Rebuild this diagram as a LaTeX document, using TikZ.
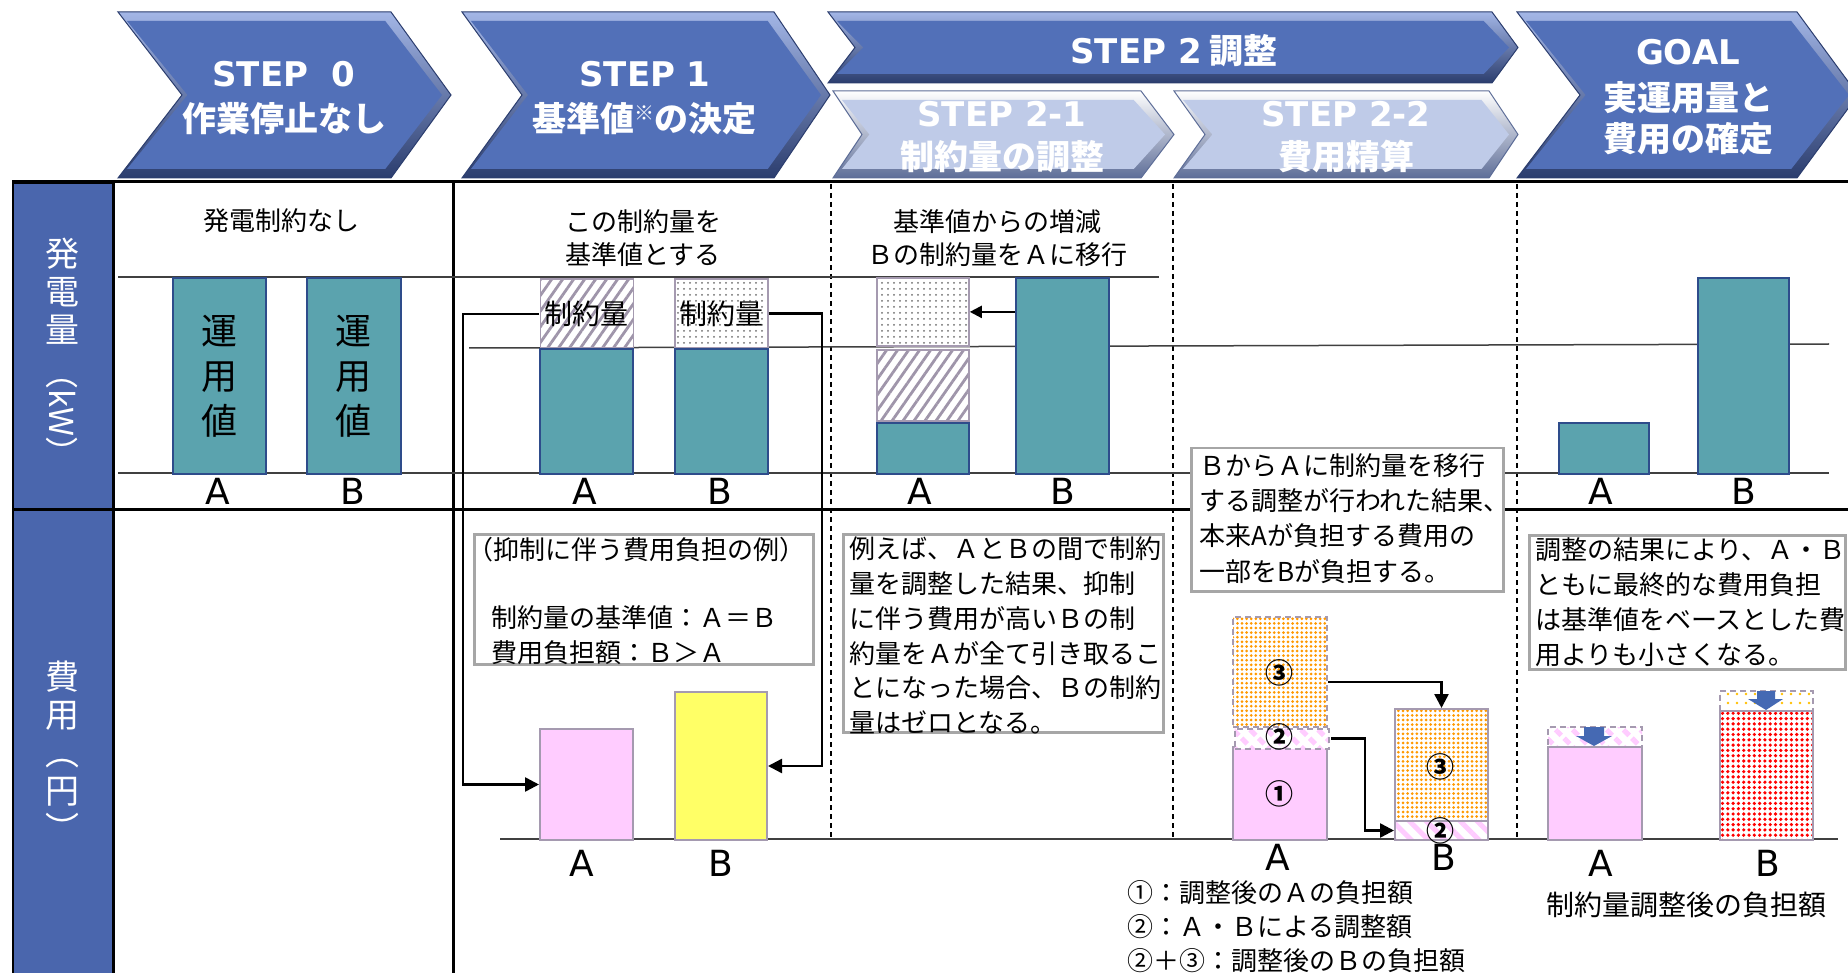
\documentclass[tikz,border=0pt]{standalone}
\usepackage{fontspec}
\setmainfont{Noto Sans CJK JP}
\newfontfamily\dv{DejaVu Sans}
\usetikzlibrary{patterns.meta,arrows.meta,calc}

\definecolor{chevblue}{HTML}{5270B8}
\definecolor{chevtop}{HTML}{A3B6E6}
\definecolor{chevbot}{HTML}{2B3D6E}
\definecolor{chevpale}{HTML}{BFCBE8}
\definecolor{palebot}{HTML}{5E6E98}
\definecolor{hdrblue}{HTML}{4A66AD}
\definecolor{teal1}{HTML}{5BA3AE}
\definecolor{tealbd}{HTML}{2E4C8B}
\definecolor{pink1}{HTML}{FFCCFF}
\definecolor{pinkbd}{HTML}{A59AB0}
\definecolor{yellow1}{HTML}{FFFF66}
\definecolor{orange1}{HTML}{FF9900}
\definecolor{gold1}{HTML}{FFC000}
\definecolor{red1}{HTML}{FF0000}
\definecolor{boxgray}{HTML}{A6A6A6}
\definecolor{arrblue}{HTML}{4569B3}
\definecolor{linegray}{HTML}{404040}
\definecolor{hatchc}{HTML}{9F95AA}
\definecolor{dotgray}{HTML}{6E6E6E}

\newcommand\chevpath[6]{(#1,#5) -- (#2,#5) -- (#3,{(#5+#6)/2}) -- (#2,#6) -- (#1,#6) -- (#4,{(#5+#6)/2}) -- cycle}
\newcommand\chevron[8]{%
  \pgfmathsetmacro\chcx{(#1+#3)/2}%
  \pgfmathsetmacro\chcy{(#5+#6)/2}%
  \pgfmathsetmacro\chsx{1-18/(#3-#1)}%
  \pgfmathsetmacro\chsy{1-18/(#6-#5)}%
  \path[#7] \chevpath{#1}{#2}{#3}{#4}{#5}{#6};
  \path[#8, shift={(\chcx,\chcy)}, xscale=\chsx, yscale=\chsy, shift={(-\chcx,-\chcy)}] \chevpath{#1}{#2}{#3}{#4}{#5}{#6};
}
\newcommand\bx[6]{\node[#1, anchor=north west, inner sep=0, minimum width={(#5-#3)*1pt}, minimum height={(#6-#4)*1pt}] (#2) at (#3,#4) {};}

\tikzset{
  darkchev/.style={draw=chevbot, line width=1pt, top color=chevtop, bottom color=chevbot},
  palechev/.style={draw=palebot, line width=1pt, top color=white, bottom color=palebot},
  chevtxt/.style={text=white, font=\fontsize{34}{34}\selectfont\bfseries, inner sep=0},
  body/.style={font=\fontsize{26}{26}\selectfont, inner sep=0, anchor=west},
  ctr/.style={font=\fontsize{26}{26}\selectfont, inner sep=0},
  circ/.style={font=\fontsize{28}{28}\selectfont\bfseries, inner sep=0},
  ab/.style={font=\dv\fontsize{36}{36}\selectfont, inner sep=0},
  tealbar/.style={draw=tealbd, fill=teal1, line width=1.8pt},
  hatchbox/.style={draw=pinkbd, line width=1.8pt, preaction={fill=white}, pattern={Lines[angle=55,distance=9pt,line width=2.8pt]}, pattern color=hatchc},
  dotbox/.style={draw=pinkbd, line width=1.8pt, preaction={fill=white}, pattern={Dots[radius=1pt,distance=6pt]}, pattern color=dotgray},
  pinkbar/.style={draw=pinkbd, fill=pink1, line width=2pt},
  yelbar/.style={draw=pinkbd, fill=yellow1, line width=2pt},
  orgdots/.style={draw=pinkbd, line width=2pt, preaction={fill=white}, pattern={Dots[radius=1.5pt,distance=4.6pt]}, pattern color=orange1},
  pinkhatch/.style={draw=pinkbd, line width=2pt, preaction={fill=white}, pattern={Lines[angle=-45,distance=12pt,line width=5pt]}, pattern color=pink1},
  reddots/.style={draw=pinkbd, line width=2pt, preaction={fill=white}, pattern={Dots[radius=1.8pt,distance=5.3pt]}, pattern color=red1},
  golddots/.style={draw=pinkbd, line width=2pt, preaction={fill=white}, pattern={Dots[radius=1.4pt,distance=9pt]}, pattern color=gold1},
  dashedbd/.style={dash pattern=on 6pt off 4pt},
  conn/.style={line width=2.5pt, -{Triangle[length=14pt,width=14pt]}},
  tbox/.style={draw=boxgray, fill=white, line width=2.5pt},
  tblline/.style={line width=3pt, black},
  thinline/.style={line width=1.5pt, linegray},
  vdash/.style={line width=1.2pt, black, dash pattern=on 5pt off 4pt},
}

\begin{document}
\begin{tikzpicture}[x=1pt,y=-1pt]
\useasboundingbox (0,0) rectangle (1848,973);
\fill[white] (0,0) rectangle (1848,973);

% ---------- chevrons ----------
\begin{scope}
\clip (0,0) rectangle (1848,973);
\chevron{118}{391}{451}{182}{12}{178}{darkchev}{fill=chevblue}
\chevron{462}{774}{830}{522}{12}{178}{darkchev}{fill=chevblue}
\chevron{828}{1492}{1518}{855}{12}{83}{darkchev}{fill=chevblue}
\chevron{833}{1141}{1174}{862}{91}{178}{palechev}{fill=chevpale}
\chevron{1174}{1489}{1518}{1205}{91}{178}{palechev}{fill=chevpale}
\chevron{1517}{1797}{1858}{1580}{12}{178}{darkchev}{fill=chevblue}
\end{scope}

\node[chevtxt] (c0a) at (284,74) {\dv STEP\ \ 0};
\node[chevtxt] (c0b) at (284,119) {作業停止なし};
\node[chevtxt] (c1a) at (645,74) {\dv STEP 1};
\node[chevtxt] (c1b) at (644,119) {基準値{\fontsize{20}{20}\selectfont\raisebox{11pt}{※}}の決定};
\node[chevtxt] (c2) at (1174,51) {{\dv STEP 2} 調整};
\node[chevtxt] (c21a) at (1002,114) {\dv STEP 2-1};
\node[chevtxt] (c21b) at (1002,157) {制約量の調整};
\node[chevtxt] (c22a) at (1346,114) {\dv STEP 2-2};
\node[chevtxt] (c22b) at (1346,157) {費用精算};
\node[chevtxt] (cga) at (1688,52) {\dv GOAL};
\node[chevtxt] (cgb) at (1688,98) {実運用量と};
\node[chevtxt] (cgc) at (1688,139) {費用の確定};

% ---------- table frame ----------
\node[draw=black, fill=hdrblue, line width=2pt, anchor=north west, inner sep=0, minimum width=101pt, minimum height=327pt] (hkw) at (12,182) {};
\node[draw=black, fill=hdrblue, line width=2pt, anchor=north west, inner sep=0, minimum width=101pt, minimum height=480pt] (hyen) at (12,509) {};
\node[text=white, font=\fontsize{34}{38}\selectfont, align=center, inner sep=0] (kwt) at (62,291) {発\\電\\量};
\node[text=white, font=\fontsize{33}{33}\selectfont, rotate=-90, inner sep=0] (kwu) at (62,413) {（kW）};
\node[text=white, font=\fontsize{34}{38}\selectfont, align=center, inner sep=0] (yent) at (62,751) {費\\用\\︵\\円\\︶};

\draw[tblline] (12,182) -- (1848,182);
\draw[tblline] (12,509) -- (1848,509);
\draw[tblline] (113,182) -- (113,973);
\draw[tblline] (453,182) -- (453,973);
\draw[vdash] (831,184) -- (831,839);
\draw[vdash] (1173,184) -- (1173,839);
\draw[vdash] (1517,184) -- (1517,839);

\draw[thinline] (118,277) -- (1159,277);
\draw[thinline] (469,348) -- (1829,344);
\draw[thinline] (118,473) -- (1829,473);
\draw[thinline] (500,839) -- (1838,839);

% ---------- top section ----------
\node[ctr] (h0) at (281,221) {発電制約なし};
\node[ctr] (h1a) at (643,222) {この制約量を};
\node[ctr] (h1b) at (643,255) {基準値とする};
\node[ctr] (h21a) at (997,222) {基準値からの増減};
\node[ctr] (h21b) at (997,255) {Ｂの制約量をＡに移行};

\bx{tealbar}{b0A}{172}{277}{265}{473}
\bx{tealbar}{b0B}{306}{277}{400}{473}
\node[font=\fontsize{36}{45}\selectfont, align=center, inner sep=0] (b0At) at (b0A.center) {運\\用\\値};
\node[font=\fontsize{36}{45}\selectfont, align=center, inner sep=0] (b0Bt) at (b0B.center) {運\\用\\値};
\node[ab] (l0A) at (218,491) {A};
\node[ab] (l0B) at (353,491) {B};

\bx{hatchbox}{s1Ah}{539}{278}{632}{347}
\bx{tealbar}{s1At}{539}{348}{632}{473}
\bx{dotbox}{s1Bd}{674}{278}{767}{347}
\bx{tealbar}{s1Bt}{674}{348}{767}{473}
\node[font=\fontsize{28}{28}\selectfont, inner sep=0] (s1Ahx) at (s1Ah.center) {制約量};
\node[font=\fontsize{28}{28}\selectfont, inner sep=0] (s1Bdx) at (s1Bd.center) {制約量};
\node[ab] (l1A) at (585,491) {A};
\node[ab] (l1B) at (720,491) {B};

\bx{dotbox}{s21Ad}{876}{277}{968}{345}
\bx{hatchbox}{s21Ah}{876}{349}{968}{420}
\bx{tealbar}{s21At}{876}{422}{968}{473}
\bx{tealbar}{s21B}{1015}{277}{1108}{473}
\node[ab] (l21A) at (920,491) {A};
\node[ab] (l21B) at (1063,491) {B};
\draw[line width=2.2pt, -{Triangle[length=12pt,width=12pt]}] (s21Ad.east -| s21B.west) -- (s21Ad.east);

\bx{tealbar}{gA}{1558}{422}{1648}{473}
\bx{tealbar}{gB}{1697}{277}{1788}{473}
\node[ab] (lgA) at (1601,491) {A};
\node[ab] (lgB) at (1744,491) {B};

\bx{tbox}{tb22}{1190}{447}{1502}{590}
\node[body] (t22a) at (1199,466) {ＢからＡに制約量を移行};
\node[body] (t22b) at (1199,501) {する調整が行われた結果、};
\node[body] (t22c) at (1199,536) {本来Aが負担する費用の};
\node[body] (t22d) at (1199,572) {一部をBが負担する。};

% ---------- bottom section ----------
\bx{tbox}{tb1}{473}{533}{812}{663}
\node[body] (t1a) at (467,550) {（抑制に伴う費用負担の例）};
\node[body] (t1b) at (491,618) {制約量の基準値：Ａ＝Ｂ};
\node[body] (t1c) at (491,653) {費用負担額：Ｂ＞Ａ};
\bx{pinkbar}{p1A}{539}{728}{632}{839}
\bx{yelbar}{y1B}{674}{691}{766}{839}
\node[ab] (m1A) at (582,863) {A};
\node[ab] (m1B) at (721,863) {B};
\draw[conn] (s1Ah.west) -- ++(-76,0) |- (p1A.west);
\draw[conn] (s1Bd.east) -- ++(53,0) |- (y1B.east);

\bx{tbox}{tb21}{842}{533}{1162}{731}
\node[body] (t21a) at (849,549) {例えば、ＡとＢの間で制約};
\node[body] (t21b) at (849,584) {量を調整した結果、抑制};
\node[body] (t21c) at (849,619) {に伴う費用が高いＢの制};
\node[body] (t21d) at (849,654) {約量をＡが全て引き取るこ};
\node[body] (t21e) at (849,688) {とになった場合、Ｂの制約};
\node[body] (t21f) at (849,722) {量はゼロとなる。};

\bx{pinkbar}{a1}{1232}{746}{1326}{839}
\bx{orgdots,dashedbd}{a3}{1232}{616}{1326}{726}
\bx{pinkhatch,dashedbd}{a2}{1232}{726}{1326}{746}
\bx{orgdots}{b3}{1394}{708}{1487}{820}
\bx{pinkhatch}{b2}{1394}{820}{1487}{839}
\node[circ] (a3n) at (1279,673) {③};
\node[circ] (a2n) at (1279,737) {②};
\node[circ] (a1n) at (1279,794) {①};
\node[circ] (b3n) at (1440,767) {③};
\node[circ] (b2n) at (1440,831) {②};
\draw[conn] ([yshift=-10pt]a3.east) -| (b3.north);
\draw[conn] (a2.east) -- ++(34,0) |- (b2.west);
\node[ab] (m22A) at (1278,857) {A};
\node[ab] (m22B) at (1444,857) {B};
\node[body] (lg1) at (1127,893) {①：調整後のＡの負担額};
\node[body] (lg2) at (1127,927) {②：Ａ・Ｂによる調整額};
\node[body] (lg3) at (1127,961) {②＋③：調整後のＢの負担額};

\bx{tbox}{tbg}{1528}{534}{1844}{668}
\node[body] (tga) at (1535,550) {調整の結果により、Ａ・Ｂ};
\node[body] (tgb) at (1535,585) {ともに最終的な費用負担};
\node[body] (tgc) at (1535,620) {は基準値をベースとした費};
\node[body] (tgd) at (1535,655) {用よりも小さくなる。};
\bx{pinkhatch,dashedbd}{gA2}{1547}{726}{1641}{746}
\bx{pinkbar}{gA1}{1547}{746}{1641}{839}
\bx{golddots,dashedbd}{gB2}{1719}{690}{1812}{710}
\bx{reddots}{gB1}{1719}{710}{1812}{839}
\fill[arrblue] (1584,727) -- (1604,727) -- (1604,736) -- (1612,736) -- (1594,746) -- (1576,736) -- (1584,736) -- cycle;
\fill[arrblue] (1757,691) -- (1775,691) -- (1775,699) -- (1783,699) -- (1766,710) -- (1748,699) -- (1757,699) -- cycle;
\node[ab] (mgA) at (1601,863) {A};
\node[ab] (mgB) at (1768,863) {B};
\node[font=\fontsize{28}{28}\selectfont, inner sep=0] (mgt) at (1686,905) {制約量調整後の負担額};
\end{tikzpicture}
\end{document}
